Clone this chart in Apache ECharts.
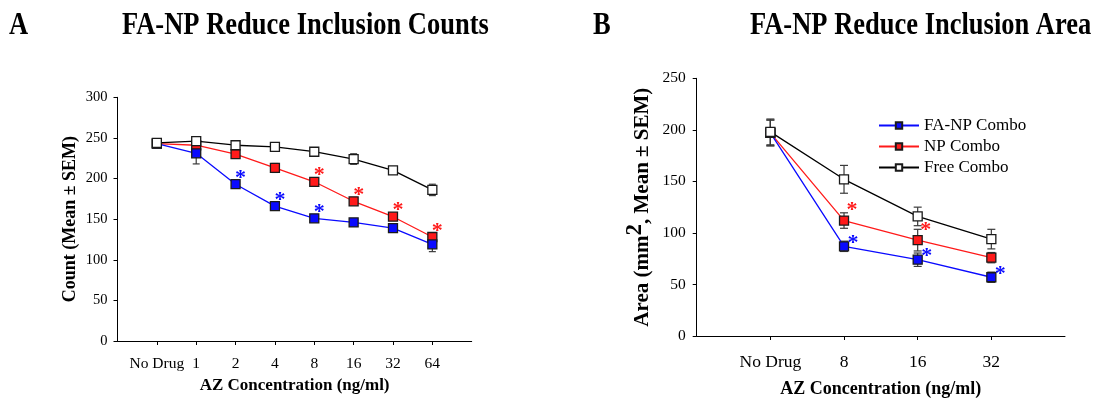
<!DOCTYPE html>
<html>
<head>
<meta charset="utf-8">
<script src="https://cdn.jsdelivr.net/npm/echarts@6/dist/echarts.min.js"></script>
<style>
html,body{margin:0;padding:0;background:#fff;}
#chart{width:1097px;height:399px;}
</style>
</head>
<body>
<div id="chart"></div>
<script>
// ---------- Data ----------
const catsA = ['No Drug', '1', '2', '4', '8', '16', '32', '64'];
const faA = [243, 231, 193, 166, 151, 146, 139, 119];
const faAsem = [5, 13, 3, 3, 3, 3, 4, 9];
const npA = [243, 241, 230, 213, 196, 172, 153, 128];
const npAsem = [5, 3, 3, 5.5, 4, 3, 3, 4];
const freeA = [244, 246, 241, 239, 233, 224, 210, 186];
const freeAsem = [5, 3, 4, 3, 3, 6.5, 3, 7];
const sigFaA = [0, 0, 1, 1, 1, 0, 0, 0];
const sigNpA = [0, 0, 0, 0, 1, 1, 1, 1];

const catsB = ['No Drug', '8', '16', '32'];
const faB = [197, 87, 74, 57];
const faBsem = [12.5, 5, 6.5, 5];
const npB = [197, 112, 93, 76];
const npBsem = [12.5, 7.5, 10.5, 5];
const freeB = [198, 152, 116, 94];
const freeBsem = [12.5, 13.5, 9, 9.5];
const sigFaB = [0, 1, 1, 1];
const sigNpB = [0, 1, 1, 0];

const yTicksA = [0, 50, 100, 150, 200, 250, 300];
const yTicksB = [0, 50, 100, 150, 200, 250];

const seriesNames = ['FA-NP Combo', 'NP Combo', 'Free Combo'];
const titleA = 'FA-NP Reduce Inclusion Counts';
const titleB = 'FA-NP Reduce Inclusion Area';
const xTitle = 'AZ Concentration (ng/ml)';
const yTitleA = 'Count (Mean \u00b1 SEM)';
const yTitleB = 'Area (mm{sup|2}, Mean \u00b1 SEM)';

// ---------- Styles ----------
const FONT = 'Liberation Serif';
const BLUE = '#0a0aff';
const RED = '#ff1a1a';
const BLACK = '#000000';
const ERR = '#3a3a3a';

function pts(vals) { return vals.map((v, i) => [i + 1, v]); }
function ptsSig(vals, sig) {
  return vals.map((v, i) => sig[i] ? { value: [i + 1, v], label: { show: true } } : [i + 1, v]);
}
function errData(vals, sems) { return vals.map((v, i) => [i + 1, v, sems[i]]); }

function errSeries(vals, sems, gi, cap, z) {
  return {
    type: 'custom', xAxisIndex: gi, yAxisIndex: gi, z: z, silent: true,
    data: errData(vals, sems),
    renderItem: function (params, api) {
      const x = api.value(0), m = api.value(1), s = api.value(2);
      const t = api.coord([x, m + s]);
      const b = api.coord([x, m - s]);
      const st = { stroke: ERR, lineWidth: 1.2 };
      return {
        type: 'group',
        children: [
          { type: 'line', shape: { x1: t[0], y1: t[1], x2: b[0], y2: b[1] }, style: st },
          { type: 'line', shape: { x1: t[0] - cap, y1: t[1], x2: t[0] + cap, y2: t[1] }, style: st },
          { type: 'line', shape: { x1: b[0] - cap, y1: b[1], x2: b[0] + cap, y2: b[1] }, style: st }
        ]
      };
    }
  };
}

function lineSeries(name, data, gi, color, fill, z, starOffset) {
  return {
    name: name, type: 'line', xAxisIndex: gi, yAxisIndex: gi, z: z,
    data: data,
    symbol: 'rect', symbolSize: 9,
    lineStyle: { color: color, width: 1.3 },
    itemStyle: { color: fill, borderColor: '#1a1a1a', borderWidth: 1.3 },
    label: {
      show: false, formatter: '*', position: 'inside', offset: starOffset || [5, -6],
      color: color, fontSize: 22, fontWeight: 'bold', fontFamily: FONT
    },
    emphasis: { disabled: true },
    animation: false
  };
}

function xAxisCfg(gi, cats, max, labelSize, margin, nameSize, nameGap) {
  const vals = cats.map((c, i) => i + 1);
  return {
    type: 'value', gridIndex: gi, min: 0, max: max, interval: 1,
    axisLine: { show: true, lineStyle: { color: BLACK, width: 1 } },
    axisTick: { show: true, length: 4, inside: false, customValues: vals, lineStyle: { color: BLACK } },
    axisLabel: {
      customValues: vals, margin: margin,
      formatter: v => cats[v - 1] || '',
      fontFamily: FONT, fontSize: labelSize, color: BLACK
    },
    splitLine: { show: false },
    name: xTitle, nameLocation: 'middle', nameGap: nameGap,
    nameTextStyle: { fontFamily: FONT, fontSize: nameSize, fontWeight: 'bold', color: BLACK }
  };
}

const option = {
  backgroundColor: '#ffffff',
  animation: false,
  textStyle: { fontFamily: FONT },
  grid: [
    { left: 117.5, top: 97.3, width: 354.2, height: 243.7, containLabel: false, outerBoundsMode: 'none' },
    { left: 696.7, top: 78.3, width: 368.3, height: 257.7, containLabel: false, outerBoundsMode: 'none' }
  ],
  xAxis: [
    xAxisCfg(0, catsA, 9, 15.5, 15, 17, 32),
    xAxisCfg(1, catsB, 5, 17.5, 17, 18, 44)
  ],
  yAxis: [
    {
      type: 'value', gridIndex: 0, min: yTicksA[0], max: yTicksA[yTicksA.length - 1], interval: 50,
      axisLine: { show: true, lineStyle: { color: BLACK, width: 1 } },
      axisTick: { show: true, length: 4, lineStyle: { color: BLACK } },
      axisLabel: { margin: 10, fontFamily: FONT, fontSize: 14.5, color: BLACK },
      splitLine: { show: false },
      name: yTitleA, nameLocation: 'middle', nameGap: 38,
      nameTextStyle: { fontFamily: FONT, fontSize: 18, fontWeight: 'bold', color: BLACK }
    },
    {
      type: 'value', gridIndex: 1, min: yTicksB[0], max: yTicksB[yTicksB.length - 1], interval: 50,
      axisLine: { show: true, lineStyle: { color: BLACK, width: 1 } },
      axisTick: { show: true, length: 4, lineStyle: { color: BLACK } },
      axisLabel: { margin: 11, fontFamily: FONT, fontSize: 15.5, color: BLACK },
      splitLine: { show: false },
      name: yTitleB, nameLocation: 'middle', nameGap: 36,
      nameTextStyle: {
        fontFamily: FONT, fontSize: 21, fontWeight: 'bold', color: BLACK,
        rich: { sup: { fontFamily: FONT, fontSize: 23, fontWeight: 'bold', color: BLACK, padding: [0, 0, 14, 0] } }
      }
    }
  ],
  legend: {
    data: seriesNames,
    orient: 'vertical', left: 873, top: 112,
    itemWidth: 40, itemHeight: 8, itemGap: 4,
    textStyle: { fontFamily: FONT, fontSize: 17, color: BLACK },
    selectedMode: false
  },
  series: [
    errSeries(npA, npAsem, 0, 3.5, 1),
    errSeries(faA, faAsem, 0, 3.5, 1),
    errSeries(freeA, freeAsem, 0, 3.5, 1),
    lineSeries(seriesNames[1], ptsSig(npA, sigNpA), 0, RED, RED, 2, [5, -6]),
    lineSeries(seriesNames[0], ptsSig(faA, sigFaA), 0, BLUE, BLUE, 3, [5, -6]),
    lineSeries(seriesNames[2], pts(freeA), 0, BLACK, '#ffffff', 4),

    errSeries(npB, npBsem, 1, 4, 1),
    errSeries(faB, faBsem, 1, 4, 1),
    errSeries(freeB, freeBsem, 1, 4, 1),
    lineSeries(seriesNames[1], ptsSig(npB, sigNpB), 1, RED, RED, 2, [8, -10]),
    lineSeries(seriesNames[0], ptsSig(faB, sigFaB), 1, BLUE, BLUE, 3, [9, -3]),
    lineSeries(seriesNames[2], pts(freeB), 1, BLACK, '#ffffff', 4)
  ],
  graphic: [
    { type: 'text', x: 9, y: 26, scaleY: 1.2, style: { text: 'A', font: 'bold 26.5px "Liberation Serif"', fill: BLACK, verticalAlign: 'middle' } },
    { type: 'text', x: 122, y: 26, scaleY: 1.2, style: { text: titleA, font: 'bold 26.5px "Liberation Serif"', fill: BLACK, verticalAlign: 'middle' } },
    { type: 'text', x: 593, y: 26, scaleY: 1.2, style: { text: 'B', font: 'bold 26.5px "Liberation Serif"', fill: BLACK, verticalAlign: 'middle' } },
    { type: 'text', x: 750, y: 26, scaleY: 1.2, style: { text: titleB, font: 'bold 26.5px "Liberation Serif"', fill: BLACK, verticalAlign: 'middle' } }
  ]
};

const chart = echarts.init(document.getElementById('chart'), null, { renderer: 'canvas' });
chart.setOption(option);
</script>
</body>
</html>
